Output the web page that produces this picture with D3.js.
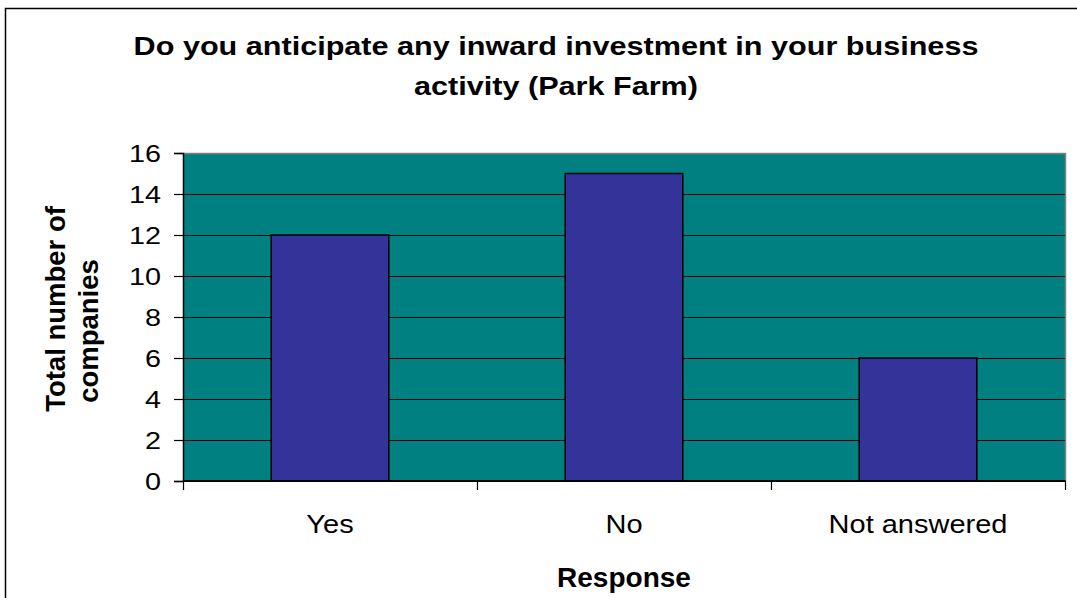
<!DOCTYPE html>
<html>
<head>
<meta charset="utf-8">
<script src="https://cdn.jsdelivr.net/npm/d3@7"></script>
<style>
  body { margin: 0; background: #fff; }
  svg { display: block; font-family: "Liberation Sans", Arial, sans-serif; }
</style>
</head>
<body>
<svg id="chart" width="1077" height="598"></svg>
<script>
// data
const categories = ["Yes", "No", "Not answered"];
const counts = [12, 15, 6];
const yTicks = [0, 2, 4, 6, 8, 10, 12, 14, 16];
const titleLines = ["Do you anticipate any inward investment in your business", "activity (Park Farm)"];

const svg = d3.select("#chart");
const plot = { left: 183, top: 153, right: 1065, bottom: 481 };
// the original text looks wider than Liberation Sans, so stretch it a bit
const stretch = 1.2;

// outer chart frame (runs off the right/bottom edge)
svg.append("rect")
    .attr("x", 5.5).attr("y", 8.5)
    .attr("width", 1200).attr("height", 700)
    .attr("fill", "none").attr("stroke", "#000").attr("stroke-width", 1.5);

const x = d3.scaleBand().domain(categories).range([plot.left, plot.right]).padding(0);
const y = d3.scaleLinear().domain([0, 16]).range([plot.bottom, plot.top]);

// plot background
svg.append("rect")
    .attr("x", plot.left).attr("y", plot.top)
    .attr("width", plot.right - plot.left).attr("height", plot.bottom - plot.top)
    .attr("fill", "#008080");

// gridlines
svg.append("g")
    .selectAll("line")
    .data(yTicks.filter((d) => d > 0 && d < 16))
    .join("line")
    .attr("x1", plot.left).attr("x2", plot.right)
    .attr("y1", (d) => Math.round(y(d)) + 0.5).attr("y2", (d) => Math.round(y(d)) + 0.5)
    .attr("stroke", "#000").attr("stroke-width", 1);

// border of plot area: grey top and right
svg.append("path")
    .attr("d", `M${plot.left},${plot.top + 0.5}H${plot.right + 0.5}V${plot.bottom}`)
    .attr("fill", "none").attr("stroke", "#808080").attr("stroke-width", 1.5);

// bars
const barW = x.bandwidth() * 0.4;
svg.append("g")
    .selectAll("rect")
    .data(counts)
    .join("rect")
    .attr("x", (d, i) => x(categories[i]) + (x.bandwidth() - barW) / 2)
    .attr("y", (d) => y(d))
    .attr("width", barW)
    .attr("height", (d) => y(0) - y(d))
    .attr("fill", "#333399")
    .attr("stroke", "#000").attr("stroke-width", 1.5);

// y axis
const yAxis = svg.append("g")
    .attr("transform", `translate(${plot.left},0)`)
    .call(d3.axisLeft(y).tickValues(yTicks).tickSize(9));
yAxis.select(".domain").attr("stroke", "#000").attr("stroke-width", 1.5);
yAxis.selectAll(".tick line").attr("stroke", "#000").attr("stroke-width", 1.2);
yAxis.selectAll(".tick text")
    .attr("font-size", 24).attr("fill", "#000")
    .attr("font-family", "Liberation Sans, Arial, sans-serif")
    .attr("transform", `scale(${stretch},1)`)
    .attr("x", -22 / stretch)
    .attr("dy", "0.34em");

// x axis: ticks at category boundaries
svg.append("line")
    .attr("x1", plot.left).attr("x2", plot.right + 0.5)
    .attr("y1", plot.bottom).attr("y2", plot.bottom)
    .attr("stroke", "#000").attr("stroke-width", 2);
const boundaries = categories.map((c) => x(c)).concat([plot.right]);
svg.append("g")
    .selectAll("line")
    .data(boundaries)
    .join("line")
    .attr("x1", (d) => Math.round(d) + 0.5).attr("x2", (d) => Math.round(d) + 0.5)
    .attr("y1", plot.bottom).attr("y2", plot.bottom + 9)
    .attr("stroke", "#000").attr("stroke-width", 1.2);

svg.append("g")
    .selectAll("text")
    .data(categories)
    .join("text")
    .attr("transform", (d) => `translate(${x(d) + x.bandwidth() / 2},533) scale(1.16,1)`)
    .attr("text-anchor", "middle")
    .attr("font-size", 25)
    .text((d) => d);

// titles
svg.append("g")
    .selectAll("text")
    .data(titleLines)
    .join("text")
    .attr("transform", (d, i) => `translate(556,${55 + i * 40}) scale(${stretch},1)`)
    .attr("text-anchor", "middle")
    .attr("font-size", 25.5)
    .attr("font-weight", "bold")
    .text((d) => d);

svg.append("text")
    .attr("x", 624).attr("y", 587)
    .attr("text-anchor", "middle")
    .attr("font-size", 28).attr("font-weight", "bold")
    .text("Response");

// y title, two lines
const yTitle = [
    { text: "Total number of", x: 65, cy: 309 },
    { text: "companies", x: 98, cy: 331 }
];
svg.append("g")
    .selectAll("text")
    .data(yTitle)
    .join("text")
    .attr("transform", (d) => `translate(${d.x},${d.cy}) rotate(-90)`)
    .attr("text-anchor", "middle")
    .attr("font-size", 27.5).attr("font-weight", "bold")
    .text((d) => d.text);
</script>
</body>
</html>
